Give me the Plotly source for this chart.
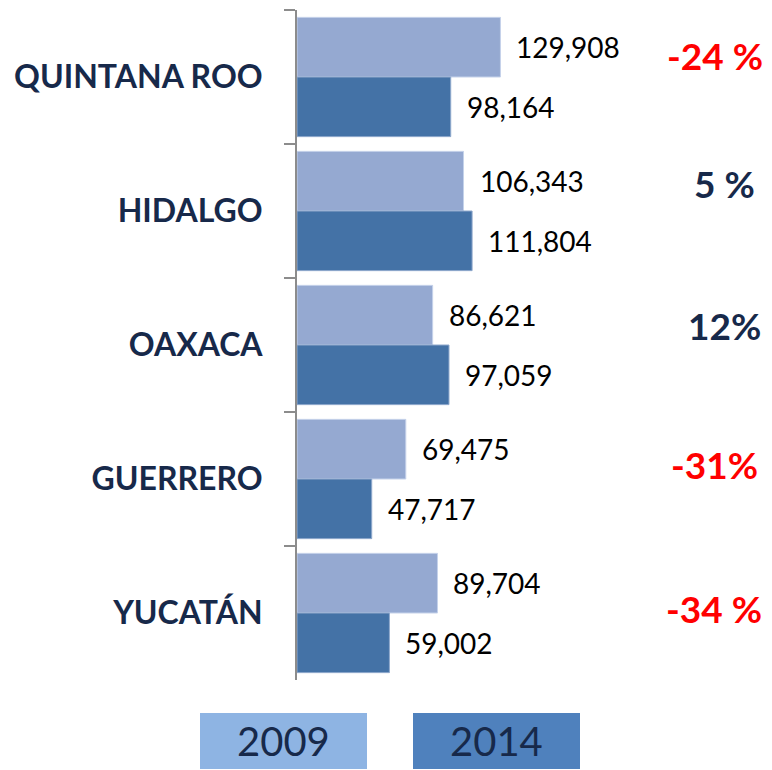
import plotly.graph_objects as go

states = ["QUINTANA ROO", "HIDALGO", "OAXACA", "GUERRERO", "YUCATÁN"]
v2009 = [129908, 106343, 86621, 69475, 89704]
v2014 = [98164, 111804, 97059, 47717, 59002]
pct_labels = ["-24 %", "5 %", "12%", "-31%", "-34 %"]
pct_colors = ["#FF0000", "#17294A", "#17294A", "#FF0000", "#FF0000"]
pct_x = [0.88, 0.899, 0.901, 0.878, 0.878]
pct_shift = [22, 28, 20, 15, 5]

C2009 = "#95A9D1"
C2014 = "#4472A6"
FONT = "Lato"

fig = go.Figure()
fig.add_trace(go.Bar(y=states, x=v2009, orientation="h", name="2009",
                     marker=dict(color=C2009, line=dict(color="#C5D2EA", width=1))))
fig.add_trace(go.Bar(y=states, x=v2014, orientation="h", name="2014",
                     marker=dict(color=C2014, line=dict(color="#8FA8CC", width=1))))

ann = []
for s, a, b in zip(states, v2009, v2014):
    ann.append(dict(x=a, y=s, xref="x", yref="y", text=f"{a:,}", showarrow=False,
                    xanchor="left", xshift=14, yshift=30,
                    font=dict(family=FONT, size=28, color="#000000")))
    ann.append(dict(x=b, y=s, xref="x", yref="y", text=f"{b:,}", showarrow=False,
                    xanchor="left", xshift=14, yshift=-30,
                    font=dict(family=FONT, size=28, color="#000000")))
for s, t, c, px, sh in zip(states, pct_labels, pct_colors, pct_x, pct_shift):
    ann.append(dict(x=px, y=s, xref="paper", yref="y", text=f"<b>{t}</b>", showarrow=False,
                    xanchor="center", yshift=sh,
                    font=dict(family=FONT, size=37, color=c)))

# legend boxes
legend_items = [("2009", "#8EB4E3", 200, 367), ("2014", "#4F81BD", 413, 580)]
shapes = []
W, H = 772, 770
L, R, T, B = 297, 0, 10, 90
pw = W - L - R
ph = H - T - B
for name, col, x0, x1 in legend_items:
    shapes.append(dict(type="rect", xref="paper", yref="paper",
                       x0=(x0 - L) / pw, x1=(x1 - L) / pw,
                       y0=-(769 - (H - B)) / ph, y1=-(713 - (H - B)) / ph,
                       fillcolor=col, line=dict(width=0), layer="above"))
    ann.append(dict(x=((x0 + x1) / 2 - L) / pw, y=-(741 - (H - B)) / ph, xref="paper", yref="paper",
                    text=name, showarrow=False, xanchor="center", yanchor="middle",
                    font=dict(family=FONT, size=40, color="#17294A")))

xmax = pw / 1.566 * 1000
fig.update_layout(
    width=W, height=H, margin=dict(l=L, r=R, t=T, b=B),
    barmode="group", bargap=0.11, bargroupgap=0,
    plot_bgcolor="white", paper_bgcolor="white",
    showlegend=False, annotations=ann, shapes=shapes,
    xaxis=dict(range=[0, xmax], visible=False, fixedrange=True),
    yaxis=dict(autorange="reversed", showline=True, linecolor="#8C8C8C", linewidth=2,
               ticks="outside", tickson="boundaries", ticklen=11, tickwidth=2, tickcolor="#8C8C8C",
               ticklabelstandoff=26,
               tickfont=dict(family=FONT, size=32, color="#17294A", weight="bold"),
               showgrid=False, zeroline=False, fixedrange=True),
    font=dict(family=FONT),
)
fig.write_html("out.html", config={"displayModeBar": False},
               post_script="document.body.style.margin='0px';document.body.style.overflow='hidden';")
